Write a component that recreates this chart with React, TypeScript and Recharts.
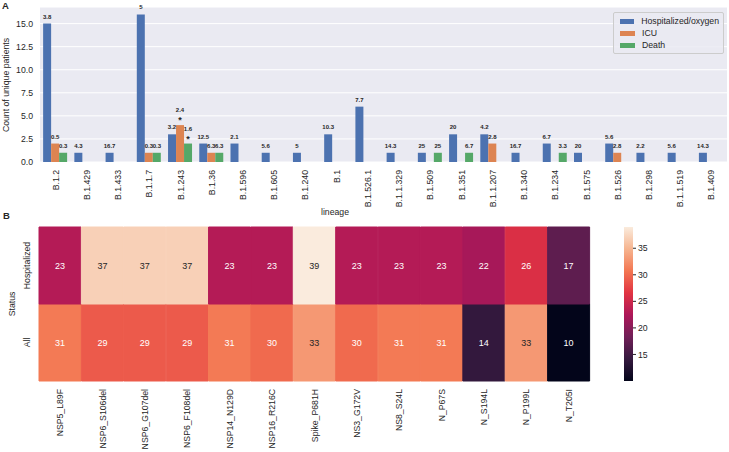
import React from 'react';
import { BarChart, Bar, XAxis, YAxis, CartesianGrid, Cell, LabelList, Legend } from 'recharts';

// panel A
const lineages = [
  'B.1.2', 'B.1.429', 'B.1.433', 'B.1.1.7', 'B.1.243', 'B.1.36', 'B.1.596', 'B.1.605', 'B.1.240', 'B.1', 'B.1.526.1',
  'B.1.1.329', 'B.1.509', 'B.1.351', 'B.1.1.207', 'B.1.340', 'B.1.234', 'B.1.575', 'B.1.526', 'B.1.298', 'B.1.1.519', 'B.1.409',
];
const hospitalized = [15, 1, 1, 16, 3, 2, 2, 1, 1, 3, 6, 1, 1, 3, 3, 1, 2, 1, 2, 1, 1, 1];
const icu = [2, null, null, 1, 4, 1, null, null, null, null, null, null, null, null, 2, null, null, null, 1, null, null, null];
const death = [1, null, null, 1, 2, 1, null, null, null, null, null, null, 1, 1, null, null, 1, null, null, null, null, null];
const hospLabels = ['3.8', '4.3', '16.7', '5', '3.2', '12.5', '2.1', '5.6', '5', '10.3', '7.7', '14.3', '25', '20', '4.2', '16.7', '6.7', '20', '5.6', '2.2', '5.6', '14.3'];
const icuLabels = ['0.5', null, null, '0.3', '2.4*', '6.3', null, null, null, null, null, null, null, null, '2.8', null, null, null, '2.8', null, null, null];
const deathLabels = ['0.3', null, null, '0.3', '1.6*', '6.3', null, null, null, null, null, null, '25', '6.7', null, null, '3.3', null, null, null, null, null];
const countTicks = [0, 2.5, 5, 7.5, 10, 12.5, 15];
const seriesNames = ['Hospitalized/oxygen', 'ICU', 'Death'];

// panel B
const mutations = [
  'NSP5_L89F', 'NSP6_S106del', 'NSP6_G107del', 'NSP6_F108del', 'NSP14_N129D', 'NSP16_R216C', 'Spike_P681H',
  'NS3_G172V', 'NS8_S24L', 'N_P67S', 'N_S194L', 'N_P199L', 'N_T205I',
];
const hospPct = [23, 37, 37, 37, 23, 23, 39, 23, 23, 23, 22, 26, 17];
const allPct = [31, 29, 29, 29, 31, 30, 33, 30, 31, 31, 14, 33, 10];
const cbarTicks = [15, 20, 25, 30, 35];

const VMIN = 10;
const VMAX = 39;
const TXT = '#262626';
const FONT = '"Liberation Sans", Arial, sans-serif';

// rocket colormap anchors
const rocketStops: [number, number[]][] = [
  [0, [3, 5, 26]],
  [1 / 7, [53, 25, 62]],
  [2 / 7, [112, 31, 87]],
  [3 / 7, [173, 23, 89]],
  [4 / 7, [225, 51, 66]],
  [5 / 7, [243, 118, 81]],
  [6 / 7, [246, 180, 143]],
  [1, [250, 235, 221]],
];

function rocketRgb(v: number) {
  const t = Math.max(0, Math.min(1, (v - VMIN) / (VMAX - VMIN)));
  for (let i = 1; i < rocketStops.length; i++) {
    const [t1, c1] = rocketStops[i];
    const [t0, c0] = rocketStops[i - 1];
    if (t <= t1) {
      const f = (t - t0) / (t1 - t0);
      return c0.map((c, k) => Math.round(c + (c1[k] - c) * f));
    }
  }
  return rocketStops[rocketStops.length - 1][1];
}
const rocket = (v: number) => {
  const [r, g, b] = rocketRgb(v);
  return `rgb(${r},${g},${b})`;
};
const textOn = (v: number) => {
  const lin = rocketRgb(v).map((c) => {
    const s = c / 255;
    return s <= 0.03928 ? s / 12.92 : Math.pow((s + 0.055) / 1.055, 2.4);
  });
  const lum = 0.2126 * lin[0] + 0.7152 * lin[1] + 0.0722 * lin[2];
  return lum > 0.408 ? TXT : '#ffffff';
};

const lineageRows = lineages.map((l, i) => ({
  lineage: l,
  hosp: hospitalized[i],
  icu: icu[i],
  death: death[i],
  hospLabel: hospLabels[i],
  icuLabel: icuLabels[i],
  deathLabel: deathLabels[i],
}));

const heatRows = mutations.map((m, i) => ({ mutation: m, hosp: hospPct[i], all: allPct[i], hospCell: 1, allCell: 1 }));

const cbarRows = [{ k: 'cbar', lo: VMIN, hi: VMAX }];

const RotTick = (props: any) => {
  const { x, y, payload } = props;
  return (
    <text x={x} y={y} dy="0.35em" transform={`rotate(-90 ${x} ${y})`} textAnchor="end" fontSize={8.7} fill={TXT}>
      {payload.value}
    </text>
  );
};

const RowTick = (props: any) => {
  const { x, y, payload } = props;
  const name = payload.value > 1 ? 'Hospitalized' : 'All';
  return (
    <text x={x} y={y} dy="0.35em" transform={`rotate(-90 ${x} ${y})`} textAnchor="middle" fontSize={8.7} fill={TXT}>
      {name}
    </text>
  );
};

const renderBarLabel = (props: any) => {
  const { x, y, width, value } = props;
  if (value == null) return null;
  const s = String(value);
  const star = s.endsWith('*');
  const cx = x + width / 2;
  return (
    <g>
      {star && (
        <text x={cx} y={y - 2} textAnchor="middle" fontSize={9} fontWeight="bold" fill={TXT}>*</text>
      )}
      <text x={cx} y={star ? y - 13 : y - 5} textAnchor="middle" fontSize={6} fontWeight="bold" fill={TXT}>
        {star ? s.slice(0, -1) : s}
      </text>
    </g>
  );
};

const renderHeatLabel = (props: any) => {
  const { x, y, width, height, value } = props;
  return (
    <text x={x + width / 2} y={y + height / 2} dy="0.35em" textAnchor="middle" fontSize={9} fill={textOn(value)}>
      {value}
    </text>
  );
};

const renderLegend = (props: any) => {
  const items = [...(props.payload || [])].sort(
    (a: any, b: any) => seriesNames.indexOf(a.value) - seriesNames.indexOf(b.value),
  );
  return (
    <div
      style={{
        border: '1px solid #cccccc',
        background: 'rgba(234,234,242,0.85)',
        borderRadius: 2,
        padding: '2px 4px 2px 6px',
        fontSize: 8.7,
        color: TXT,
        fontFamily: FONT,
      }}
    >
      {items.map((p: any) => (
        <div key={p.value} style={{ display: 'flex', alignItems: 'center', height: 12 }}>
          <span style={{ display: 'inline-block', width: 15, height: 5, background: p.color, marginRight: 7 }} />
          <span>{p.value}</span>
        </div>
      ))}
    </div>
  );
};

export default function App() {
  return (
    <div style={{ position: 'fixed', left: 0, top: 0, width: 729, height: 452, background: '#fff', fontFamily: FONT }}>
      <div style={{ position: 'absolute', left: 0, top: 0 }}>
        <BarChart
          width={729}
          height={230}
          data={lineageRows}
          margin={{ top: 7, right: 2, left: 0, bottom: 0 }}
          barCategoryGap="10%"
          barGap={0}
        >
          <CartesianGrid vertical={false} fill="#eaeaf2" stroke="#ffffff" strokeWidth={1} />
          <XAxis
            dataKey="lineage"
            interval={0}
            height={68}
            axisLine={false}
            tickLine={false}
            tickSize={0}
            tickMargin={8}
            tick={<RotTick />}
          />
          <YAxis
            type="number"
            domain={[0, 16.8]}
            ticks={countTicks}
            width={40}
            axisLine={false}
            tickLine={false}
            tickSize={0}
            tickMargin={7}
            tickFormatter={(v: number) => v.toFixed(1)}
            tick={{ fontSize: 8.7, fill: TXT }}
          />
          <Legend
            layout="vertical"
            align="center"
            verticalAlign="middle"
            content={renderLegend}
            wrapperStyle={{ left: 613, top: 12, width: 111 }}
          />
          <Bar dataKey="hosp" name={seriesNames[0]} fill="#4c72b0" isAnimationActive={false}>
            <LabelList dataKey="hospLabel" content={renderBarLabel} />
          </Bar>
          <Bar dataKey="icu" name={seriesNames[1]} fill="#dd8452" isAnimationActive={false}>
            <LabelList dataKey="icuLabel" content={renderBarLabel} />
          </Bar>
          <Bar dataKey="death" name={seriesNames[2]} fill="#55a868" isAnimationActive={false}>
            <LabelList dataKey="deathLabel" content={renderBarLabel} />
          </Bar>
        </BarChart>
      </div>

      <div style={{ position: 'absolute', left: 0, top: 220 }}>
        <BarChart
          width={729}
          height={232}
          data={heatRows}
          margin={{ top: 7, right: 139, left: 0, bottom: 0 }}
          barCategoryGap={0}
          barGap={0}
        >
          <XAxis
            dataKey="mutation"
            interval={0}
            height={71}
            axisLine={false}
            tickLine={false}
            tickSize={0}
            tickMargin={8}
            tick={<RotTick />}
          />
          <YAxis
            type="number"
            domain={[0, 2]}
            ticks={[0.5, 1.5]}
            width={39}
            axisLine={false}
            tickLine={false}
            tickSize={0}
            tickMargin={12}
            tick={<RowTick />}
          />
          <Bar dataKey="allCell" stackId="s" isAnimationActive={false}>
            {heatRows.map((r, i) => (
              <Cell key={`a-${i}`} fill={rocket(r.all)} stroke={rocket(r.all)} strokeWidth={1} />
            ))}
            <LabelList dataKey="all" content={renderHeatLabel} />
          </Bar>
          <Bar dataKey="hospCell" stackId="s" isAnimationActive={false}>
            {heatRows.map((r, i) => (
              <Cell key={`h-${i}`} fill={rocket(r.hosp)} stroke={rocket(r.hosp)} strokeWidth={1} />
            ))}
            <LabelList dataKey="hosp" content={renderHeatLabel} />
          </Bar>
        </BarChart>
      </div>

      <div style={{ position: 'absolute', left: 624, top: 220 }}>
        <BarChart
          width={60}
          height={232}
          data={cbarRows}
          margin={{ top: 7, right: 0, left: 0, bottom: 0 }}
          barCategoryGap={0}
          barGap={0}
        >
          <defs>
            <linearGradient id="rocketGrad" x1="0" y1="1" x2="0" y2="0">
              {rocketStops.map(([t, c]) => (
                <stop key={t} offset={t} stopColor={`rgb(${c[0]},${c[1]},${c[2]})`} />
              ))}
            </linearGradient>
          </defs>
          <XAxis dataKey="k" height={71} axisLine={false} tickLine={false} tick={false} />
          <YAxis
            orientation="right"
            type="number"
            domain={[VMIN, VMAX]}
            allowDataOverflow
            ticks={cbarTicks}
            width={51}
            axisLine={false}
            tickSize={3}
            tickMargin={2}
            tickLine={{ stroke: TXT }}
            tick={{ fontSize: 8.7, fill: TXT }}
          />
          <Bar dataKey={(r: any) => [r.lo, r.hi]} fill="url(#rocketGrad)" isAnimationActive={false} />
        </BarChart>
      </div>

      <svg width={729} height={452} style={{ position: 'absolute', left: 0, top: 0, pointerEvents: 'none' }}>
        <text x={2} y={9} fontSize={9.5} fontWeight="bold" fill={TXT}>A</text>
        <text x={3} y={219} fontSize={9.5} fontWeight="bold" fill={TXT}>B</text>
        <text x={6} y={85} dy="0.35em" transform="rotate(-90 6 85)" textAnchor="middle" fontSize={8.7} fill={TXT}>
          Count of unique patients
        </text>
        <text x={335} y={212} dy="0.35em" textAnchor="middle" fontSize={8.7} fill={TXT}>lineage</text>
        <text x={12} y={304} dy="0.35em" transform="rotate(-90 12 304)" textAnchor="middle" fontSize={8.7} fill={TXT}>
          Status
        </text>
      </svg>
    </div>
  );
}
